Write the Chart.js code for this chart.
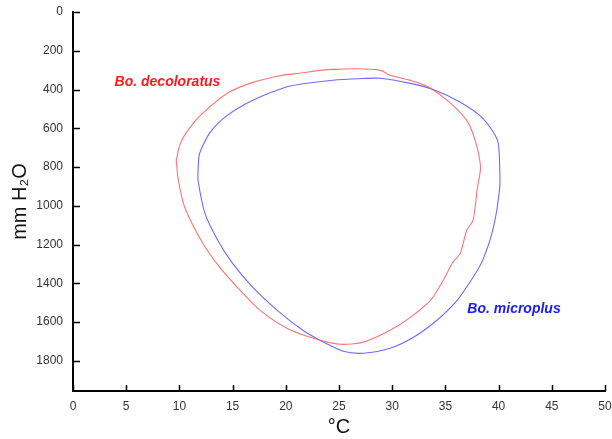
<!DOCTYPE html>
<html>
<head>
<meta charset="utf-8">
<script src="https://cdn.jsdelivr.net/npm/chart.js@4/dist/chart.umd.min.js"></script>
<style>
  html, body { margin: 0; padding: 0; background: #fff; }
  #wrap { width: 612px; height: 439px; position: relative; }
</style>
</head>
<body>
<div id="wrap"><canvas id="c"></canvas></div>
<script>
// Bo. decoloratus (red) – temperature °C
const decoloratusTemp = [9.7, 10.1, 11.0, 12.2, 14.5, 16.9, 19.7, 21.3, 23.2, 24.4, 26.5, 28.9, 29.8, 32.0, 33.6, 35.4, 37.0, 37.8, 38.3, 38.0, 37.6, 37.0, 36.4, 35.7, 34.8, 33.6, 31.7, 29.8, 27.3, 25.1, 22.6, 20.1, 17.6, 15.7, 13.8, 12.2, 10.5, 9.9, 9.7];
// Bo. decoloratus (red) – mm H2O
const decoloratusPress = [765, 677, 595, 522, 419, 363, 326, 316, 301, 296, 293, 301, 326, 357, 393, 466, 559, 662, 801, 909, 1074, 1126, 1245, 1291, 1384, 1487, 1575, 1642, 1703, 1714, 1683, 1631, 1539, 1435, 1317, 1193, 1007, 868, 765];
// Bo. microplus (blue) – temperature °C
const microplusTemp = [11.75, 11.9, 12.9, 14.5, 16.9, 19.7, 21.3, 24.4, 26.8, 28.9, 31.7, 33.8, 36.4, 38.5, 39.9, 40.1, 40.1, 39.5, 38.5, 37.6, 36.1, 34.2, 32.0, 29.8, 27.3, 25.4, 23.2, 21.6, 19.2, 16.9, 15.0, 13.6, 12.4, 11.75, 11.75];
// Bo. microplus (blue) – mm H2O
const microplusPress = [816, 729, 620, 533, 455, 393, 373, 352, 344, 342, 368, 399, 466, 548, 662, 801, 909, 1115, 1281, 1368, 1487, 1590, 1678, 1735, 1760, 1750, 1693, 1642, 1539, 1420, 1297, 1177, 1039, 868, 816];

const xTicks = [0, 5, 10, 15, 20, 25, 30, 35, 40, 45, 50];
const yTicks = [0, 200, 400, 600, 800, 1000, 1200, 1400, 1600, 1800];
const seriesNames = ['Bo. decoloratus', 'Bo. microplus'];

function toPoints(xs, ys) { return xs.map((x, i) => ({ x: x, y: ys[i] })); }

const FONT = '"Liberation Sans", Arial, sans-serif';

// tick marks drawn inward from the axis lines, positioned by the chart's scales
const innerTicks = {
  id: 'innerTicks',
  afterDraw(chart) {
    const ctx = chart.ctx;
    const xs = chart.scales.x, ys = chart.scales.y;
    const a = chart.chartArea;
    ctx.save();
    ctx.strokeStyle = '#000';
    ctx.lineWidth = 1.5;
    ctx.beginPath();
    xTicks.forEach(v => {
      const px = Math.round(xs.getPixelForValue(v)) + 0.5;
      ctx.moveTo(px, a.bottom);
      ctx.lineTo(px, a.bottom - 6);
    });
    yTicks.forEach(v => {
      const py = Math.round(ys.getPixelForValue(v)) + 0.5;
      ctx.moveTo(a.left, py);
      ctx.lineTo(a.left + 7, py);
    });
    ctx.stroke();
    ctx.restore();
  }
};

const labelPlugin = {
  id: 'seriesLabels',
  afterDatasetsDraw(chart) {
    const ctx = chart.ctx;
    const xs = chart.scales.x, ys = chart.scales.y;
    const items = [
      { text: seriesNames[0], x: 8.88, y: 363, color: '#ff1a1a' },
      { text: seriesNames[1], x: 41.45, y: 1534, color: '#1a1aff' }
    ];
    ctx.save();
    ctx.font = 'italic bold 14px ' + FONT;
    ctx.textAlign = 'center';
    ctx.textBaseline = 'middle';
    items.forEach(it => {
      ctx.fillStyle = it.color;
      ctx.fillText(it.text, xs.getPixelForValue(it.x), ys.getPixelForValue(it.y));
    });
    ctx.restore();
  }
};

new Chart(document.getElementById('c'), {
  type: 'scatter',
  data: {
    datasets: [
      {
        label: seriesNames[0],
        data: toPoints(decoloratusTemp, decoloratusPress),
        showLine: true,
        borderColor: 'rgba(255,90,90,0.85)',
        borderWidth: 1.1,
        pointRadius: 0,
        tension: 0.25,
        fill: false
      },
      {
        label: seriesNames[1],
        data: toPoints(microplusTemp, microplusPress),
        showLine: true,
        borderColor: 'rgba(90,90,255,0.9)',
        borderWidth: 1.1,
        pointRadius: 0,
        tension: 0.25,
        fill: false
      }
    ]
  },
  options: {
    responsive: true,
    maintainAspectRatio: false,
    animation: false,
    devicePixelRatio: 1,
    layout: { padding: { top: 12, right: 7, left: 0, bottom: 0 } },
    plugins: { legend: { display: false }, tooltip: { enabled: false } },
    scales: {
      x: {
        type: 'linear',
        min: 0, max: 50,
        afterBuildTicks: s => { s.ticks = xTicks.map(v => ({ value: v })); },
        afterFit: s => { s.height = 48; s.paddingLeft = 0; s.paddingRight = 0; },
        grid: { display: true, drawOnChartArea: false, drawTicks: false },
        border: { display: true, color: '#000', width: 2 },
        ticks: { color: '#333', font: { family: FONT, size: 12 }, padding: 8, maxRotation: 0, callback: v => String(v) },
        title: { display: true, text: '°C', color: '#111', font: { family: FONT, size: 20 }, padding: { top: 0, bottom: 0 } }
      },
      y: {
        type: 'linear',
        reverse: true,
        min: 0, max: 1955,
        afterBuildTicks: s => { s.ticks = yTicks.map(v => ({ value: v })); },
        afterFit: s => { s.width = 73; s.paddingTop = 0; s.paddingBottom = 0; },
        grid: { display: true, drawOnChartArea: false, drawTicks: false },
        border: { display: true, color: '#000', width: 2 },
        ticks: { color: '#333', font: { family: FONT, size: 12 }, padding: 10, callback: v => String(v) },
        title: { display: true, text: 'mm H₂O', color: '#111', font: { family: FONT, size: 20 }, padding: { top: 8, bottom: 0 } }
      }
    }
  },
  plugins: [innerTicks, labelPlugin]
});
</script>
</body>
</html>
